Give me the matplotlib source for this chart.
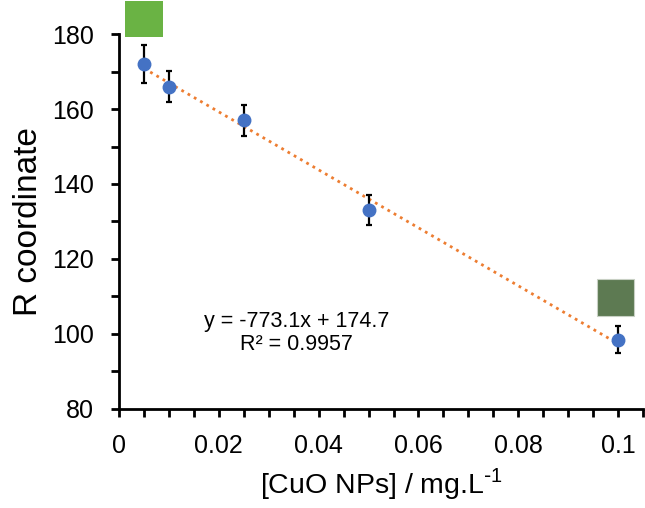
import numpy as np
import matplotlib
matplotlib.use('Agg')
import matplotlib.pyplot as plt
from matplotlib.patches import Rectangle
from matplotlib.ticker import MultipleLocator

# data
conc = [0.005, 0.01, 0.025, 0.05, 0.1]
r_coord = [172.0, 166.0, 157.0, 133.0, 98.5]
r_err = [5.0, 4.2, 4.2, 4.0, 3.5]
slope = -773.1
intercept = 174.7
r2 = 0.9957

plt.rcParams['font.family'] = ['Liberation Sans', 'DejaVu Sans']

fig = plt.figure(figsize=(6.45, 5.08), dpi=100)
ax = fig.add_axes([0.1845, 0.195, 0.8125, 0.738])

# trendline
xt = np.array([conc[0], conc[-1]])
ax.plot(xt, slope * xt + intercept, linestyle=(0, (1, 1.6)), color='#ed7d31',
        linewidth=2, zorder=2)

ax.errorbar(conc, r_coord, yerr=r_err, fmt='none', ecolor='black',
            elinewidth=1.6, capsize=2.5, capthick=1.6, zorder=3)
ax.plot(conc, r_coord, 'o', color='#4472c4', markersize=9, zorder=4)

# colour swatches
ax.add_patch(Rectangle((0.0012, 179.2), 0.0076, 9.6, facecolor='#6ab344',
                       edgecolor='none', clip_on=False, zorder=5))
ax.add_patch(Rectangle((0.0958, 104.8), 0.0074, 9.9, facecolor='#5d7a52',
                       edgecolor='#c8d0c4', linewidth=0.8, clip_on=False, zorder=5))

ax.text(0.0356, 100.3, 'y = -773.1x + 174.7\nR² = %.4f' % r2, ha='center', va='center',
        fontsize=15.5, linespacing=1.1)

ax.set_xlim(0, 0.105)
ax.set_ylim(80, 180)
ax.xaxis.set_major_locator(MultipleLocator(0.02))
ax.xaxis.set_minor_locator(MultipleLocator(0.005))
ax.yaxis.set_major_locator(MultipleLocator(20))
ax.yaxis.set_minor_locator(MultipleLocator(10))
ax.set_xticks([0, 0.02, 0.04, 0.06, 0.08, 0.1])
ax.set_xticklabels(['0', '0.02', '0.04', '0.06', '0.08', '0.1'])

for s in ['top', 'right']:
    ax.spines[s].set_visible(False)
for s in ['left', 'bottom']:
    ax.spines[s].set_linewidth(2)

ax.tick_params(which='both', direction='out', width=2, length=6, labelsize=18)
ax.tick_params(axis='x', pad=12)
ax.tick_params(axis='y', pad=12)

ax.set_xlabel('[CuO NPs] / mg.L$^{\\mathregular{\\text{-}1}}$', fontsize=20.5, labelpad=6)
ax.set_ylabel('R coordinate', fontsize=24, labelpad=6)

plt.savefig('out.png', dpi=100)
